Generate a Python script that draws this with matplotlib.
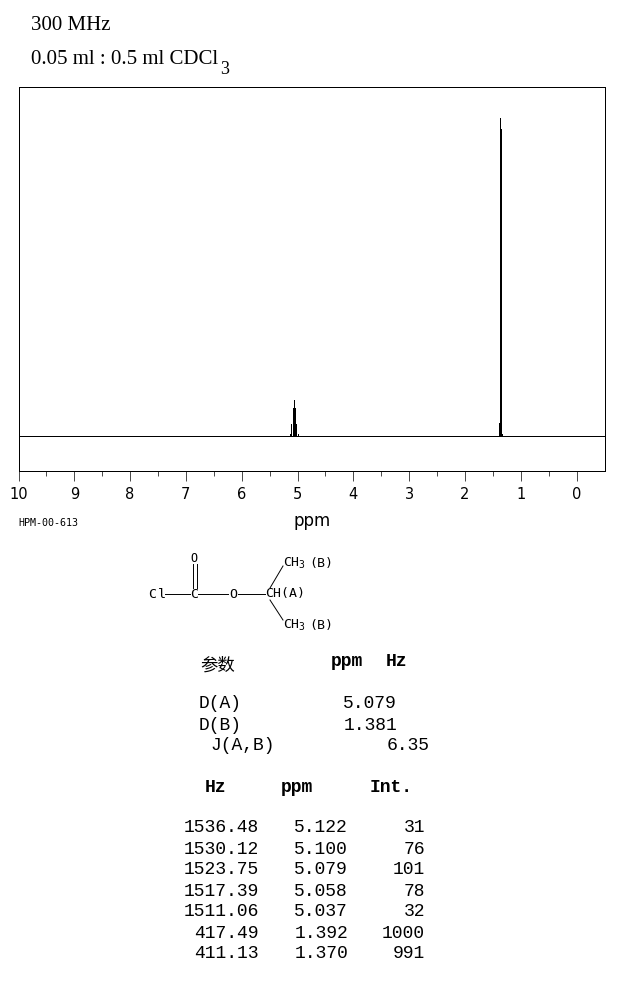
import matplotlib
matplotlib.use("Agg")
from matplotlib import pyplot as plt

W, H = 626, 992

# sticks as they appear on the trace (heights in Int units)
plot_ppm = [5.135, 5.110, 5.090, 5.075, 5.055, 5.040, 5.020, 5.000, 1.392, 1.371, 1.353, 1.335]
plot_height = [6, 35, 6, 85, 113, 85, 35, 6, 40, 998, 963, 6]

major_ticks = [10, 9, 8, 7, 6, 5, 4, 3, 2, 1, 0]
minor_ticks = [9.5, 8.5, 7.5, 6.5, 5.5, 4.5, 3.5, 2.5, 1.5, 0.5]

param_names = ["D(A)", "D(B)", "J(A,B)"]
param_values = ["5.079", "1.381", "6.35"]

peak_hz = ["1536.48", "1530.12", "1523.75", "1517.39", "1511.06", "417.49", "411.13"]
peak_ppm = ["5.122", "5.100", "5.079", "5.058", "5.037", "1.392", "1.370"]
peak_int = ["31", "76", "101", "78", "32", "1000", "991"]

MONO = "Liberation Mono"
SERIF = "Liberation Serif"
BITMAP = "DejaVu Sans Mono"
THIN = 0.5


def put(x, y, s, **kw):
    # x, y in picture pixels
    kw.setdefault("va", "center")
    kw.setdefault("color", "black")
    fig.text(x / W, 1 - y / H, s, **kw)


def bond(x0, y0, x1, y1):
    fig.add_artist(plt.Line2D([x0 / W, x1 / W], [1 - y0 / H, 1 - y1 / H],
                              color="black", lw=0.7))


fig = plt.figure(figsize=(W / 100, H / 100), dpi=100, facecolor="white")
ax = fig.add_axes([18.5 / W, 1 - 470.5 / H, 586 / W, 384 / H])

ax.vlines(plot_ppm, 0, plot_height, color="black", lw=THIN, antialiased=False)
ax.axhline(0, color="black", lw=THIN, antialiased=False)
ax.set_xlim(10, -0.5)
ax.set_ylim(-110, 1097)
ax.set_yticks([])
ax.set_xticks(major_ticks)
ax.set_xticks(minor_ticks, minor=True)
ax.set_xticklabels([str(t) for t in major_ticks], family="DejaVu Sans", fontsize=10.5)
ax.tick_params(axis="x", which="major", length=7.2, width=THIN, pad=4.8)
ax.tick_params(axis="x", which="minor", length=3.6, width=THIN)
for s in ax.spines.values():
    s.set_linewidth(0.72)

put(312, 521, "ppm", family="DejaVu Sans", fontsize=12, ha="center")
put(18, 523, "HPM-00-613", family=BITMAP, fontsize=7.2)

put(31, 25, "300 MHz", family=SERIF, fontsize=15)
put(31, 59, "0.05 ml : 0.5 ml CDCl", family=SERIF, fontsize=15)
put(220, 70, "3", family=SERIF, fontsize=13)

# structure
put(148, 594, "C", family=BITMAP, fontsize=9.5)
put(158, 594, "l", family=BITMAP, fontsize=9.5)
put(194, 558, "O", family=BITMAP, fontsize=8.5, ha="center")
put(194, 594, "C", family=BITMAP, fontsize=9.5, ha="center")
put(233, 594, "O", family=BITMAP, fontsize=9.5, ha="center")
put(265, 594, "CH(A)", family=BITMAP, fontsize=9.5)
for y in [563, 625]:
    put(283, y, "CH", family=BITMAP, fontsize=9.5)
    put(298, y + 2, "3", family=BITMAP, fontsize=7)
    put(309, y, "(B)", family=BITMAP, fontsize=9.5)
bond(165, 593.5, 190, 593.5)
bond(198, 593.5, 228, 593.5)
bond(238, 593.5, 265, 593.5)
bond(192.5, 564, 192.5, 588)
bond(196.5, 564, 196.5, 588)
bond(270, 588, 283, 566)
bond(270, 600, 283, 620)

# parameter table
put(200, 666, "参数", family=["Noto Sans CJK SC", "DejaVu Sans"], fontsize=12.5)
put(331, 662, "ppm", family=MONO, fontsize=13, weight="bold")
put(386, 662, "Hz", family=MONO, fontsize=13, weight="bold")
for name, val, nx, vx, y in zip(param_names, param_values, [199, 199, 210],
                                [397, 397, 430], [704, 725, 746]):
    put(nx, y, name, family=MONO, fontsize=13)
    put(vx, y, val, family=MONO, fontsize=13, ha="right")

# peak table
put(205, 788, "Hz", family=MONO, fontsize=13, weight="bold")
put(281, 788, "ppm", family=MONO, fontsize=13, weight="bold")
put(370, 788, "Int.", family=MONO, fontsize=13, weight="bold")
for i in range(len(peak_hz)):
    y = 828 + i * 21
    put(259, y, peak_hz[i], family=MONO, fontsize=13, ha="right")
    put(348, y, peak_ppm[i], family=MONO, fontsize=13, ha="right")
    put(425, y, peak_int[i], family=MONO, fontsize=13, ha="right")

fig.savefig("out.png", dpi=100)
